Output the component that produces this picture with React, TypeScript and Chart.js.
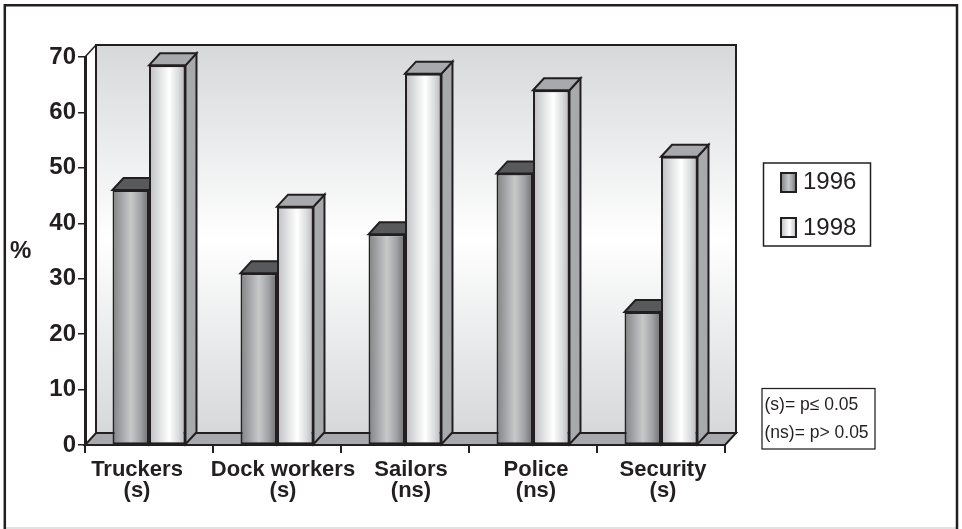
import React, { useEffect, useRef } from "react";
import { Chart, registerables } from "chart.js";

Chart.register(...registerables);

const categories = ["Truckers", "Dock workers", "Sailors", "Police", "Security"];
const significance = ["(s)", "(s)", "(ns)", "(ns)", "(s)"];
const values1996 = [46, 31, 38, 49, 24];
const values1998 = [68.5, 43, 67, 64, 52];
const seriesNames = ["1996", "1998"];
const noteLines = ["(s)= p\u2264 0.05", "(ns)= p> 0.05"];
const yTickStep = 10;
const yMax = 70;

const INK = "#231f20";
const FONT = '"Liberation Sans", Arial, sans-serif';
const DX = 11;
const DY = 12;
const labelNudge = [-12, 6, 6, 3, 2];

const stops1996: [number, string][] = [
  [0, "#808285"], [0.25, "#a3a5a8"], [0.5, "#c6c8ca"], [0.75, "#a3a5a8"], [1, "#6d6e71"],
];
const stops1998: [number, string][] = [
  [0, "#bcbec0"], [0.25, "#dcddde"], [0.55, "#ffffff"], [0.8, "#dcddde"], [1, "#b4b6b8"],
];
const depthColors = [
  { top: "#58595b", side: "#808285" },
  { top: "#a7a9ac", side: "#a7a9ac" },
];

function hGrad(c: CanvasRenderingContext2D, x0: number, x1: number, stops: [number, string][]) {
  const g = c.createLinearGradient(x0, 0, x1, 0);
  stops.forEach(([p, col]) => g.addColorStop(p, col));
  return g;
}

function poly(c: CanvasRenderingContext2D, pts: number[][], fill: string | null, lw = 2) {
  c.beginPath();
  pts.forEach(([x, y], i) => (i ? c.lineTo(x, y) : c.moveTo(x, y)));
  c.closePath();
  if (fill) {
    c.fillStyle = fill;
    c.fill();
  }
  c.lineWidth = lw;
  c.strokeStyle = INK;
  c.lineJoin = "miter";
  c.stroke();
}

const scene = {
  id: "scene",
  beforeDraw(chart: any) {
    const c = chart.ctx as CanvasRenderingContext2D;
    c.save();
    c.fillStyle = "#ffffff";
    c.fillRect(0, 0, chart.width, chart.height);
    c.strokeStyle = "#d9d9d9";
    c.lineWidth = 1.5;
    c.beginPath();
    c.moveTo(4, 528);
    c.lineTo(958, 528);
    c.stroke();
    c.strokeStyle = INK;
    c.lineWidth = 2.5;
    c.beginPath();
    c.moveTo(4.8, 529);
    c.lineTo(4.8, 5.3);
    c.lineTo(957, 5.3);
    c.lineTo(957, 529);
    c.stroke();
    c.restore();
  },
  beforeDatasetsDraw(chart: any) {
    const c = chart.ctx as CanvasRenderingContext2D;
    const { left, right, top, bottom } = chart.chartArea;
    c.save();
    // back wall
    const wall = c.createLinearGradient(0, top - DY, 0, bottom - DY);
    wall.addColorStop(0, "#d6d8da");
    wall.addColorStop(0.5, "#ffffff");
    wall.addColorStop(1, "#d6d8da");
    c.fillStyle = wall;
    c.fillRect(left + DX, top - DY, right - left, bottom - top);
    poly(c, [[left + DX, top - DY], [right + DX, top - DY], [right + DX, bottom - DY], [left + DX, bottom - DY]], null);
    // left side wall diagonal
    c.beginPath();
    c.moveTo(left, top);
    c.lineTo(left + DX, top - DY);
    c.lineWidth = 1.5;
    c.strokeStyle = INK;
    c.stroke();
    // floor
    poly(c, [[left, bottom], [right, bottom], [right + DX, bottom - DY], [left + DX, bottom - DY]], "#a7a9ac");
    // bar depth faces, and gradient fronts
    [0, 1].forEach((ds) => {
      const meta = chart.getDatasetMeta(ds);
      const stops = ds === 0 ? stops1996 : stops1998;
      meta.data.forEach((el: any) => {
        const x0 = el.x - el.width / 2;
        const x1 = el.x + el.width / 2;
        poly(c, [[x1, el.y], [x1 + DX, el.y - DY], [x1 + DX, el.base - DY], [x1, el.base]], depthColors[ds].side);
        poly(c, [[x0, el.y], [x0 + DX, el.y - DY], [x1 + DX, el.y - DY], [x1, el.y]], depthColors[ds].top);
        el.options = { ...el.options, backgroundColor: hGrad(c, x0, x1, stops) };
      });
    });
    c.restore();
  },
  afterDraw(chart: any) {
    const c = chart.ctx as CanvasRenderingContext2D;
    const xs = chart.scales.x;
    c.save();
    c.fillStyle = INK;
    c.textBaseline = "alphabetic";

    // category labels
    c.textAlign = "center";
    c.font = `bold 22px ${FONT}`;
    categories.forEach((name, i) => {
      const x = xs.getPixelForTick(i) + labelNudge[i];
      c.fillText(name, x, 476);
      c.fillText(significance[i], x, 497);
    });

    // axis unit
    c.textAlign = "left";
    c.font = `bold 24px ${FONT}`;
    c.fillText("%", 10, 258);

    // legend
    c.lineWidth = 1.5;
    c.strokeStyle = INK;
    c.strokeRect(763.5, 163, 107, 83);
    const rows = [173, 218];
    seriesNames.forEach((name, i) => {
      c.fillStyle = hGrad(c, 781, 796, i === 0 ? stops1996 : stops1998);
      c.fillRect(781, rows[i], 15, 19);
      c.lineWidth = 2;
      c.strokeRect(781, rows[i], 15, 19);
      c.fillStyle = INK;
      c.font = `24px ${FONT}`;
      c.fillText(name, 803, rows[i] + (i === 0 ? 16 : 17));
    });

    // significance note
    c.lineWidth = 1.25;
    c.strokeRect(762, 388.5, 113, 60.5);
    c.font = `17.5px ${FONT}`;
    c.fillText(noteLines[0], 764.5, 410);
    c.fillText(noteLines[1], 764.5, 438);
    c.restore();
  },
};

export default function App() {
  const ref = useRef<HTMLCanvasElement>(null);
  useEffect(() => {
    if (!ref.current) return;
    const chart = new Chart(ref.current, {
      type: "bar",
      data: {
        labels: categories,
        datasets: [
          { label: seriesNames[0], data: values1996, backgroundColor: "#a3a5a8", borderColor: INK, borderWidth: 2, borderSkipped: false },
          { label: seriesNames[1], data: values1998, backgroundColor: "#e6e7e8", borderColor: INK, borderWidth: 2, borderSkipped: false },
        ],
      },
      options: {
        responsive: false,
        animation: false,
        devicePixelRatio: 1,
        categoryPercentage: 0.57,
        barPercentage: 1,
        layout: { padding: { left: 0, top: 57, right: 237, bottom: 0 } },
        plugins: { legend: { display: false }, tooltip: { enabled: false }, title: { display: false } },
        scales: {
          x: {
            type: "category",
            offset: true,
            grid: { offset: true, drawOnChartArea: false, drawTicks: true, tickLength: 8, color: INK, lineWidth: 2 },
            border: { display: true, color: INK, width: 2 },
            ticks: { display: false },
            afterFit(s: any) { s.height = 84; },
          },
          y: {
            min: 0,
            max: yMax,
            grid: { drawOnChartArea: false, drawTicks: true, tickLength: 7, color: INK, lineWidth: 1.5 },
            border: { display: true, color: INK, width: 3 },
            ticks: {
              stepSize: yTickStep,
              padding: 2,
              color: INK,
              font: { family: FONT, size: 24, weight: "bold" },
            },
            afterFit(s: any) { s.width = 85; },
          },
        },
      } as any,
      plugins: [scene as any],
    });
    return () => chart.destroy();
  }, []);
  return (
    <div style={{ position: "fixed", left: 0, top: 0, width: 962, height: 529, background: "#fff" }}>
      <canvas ref={ref} width={962} height={529} style={{ display: "block" }} />
    </div>
  );
}
